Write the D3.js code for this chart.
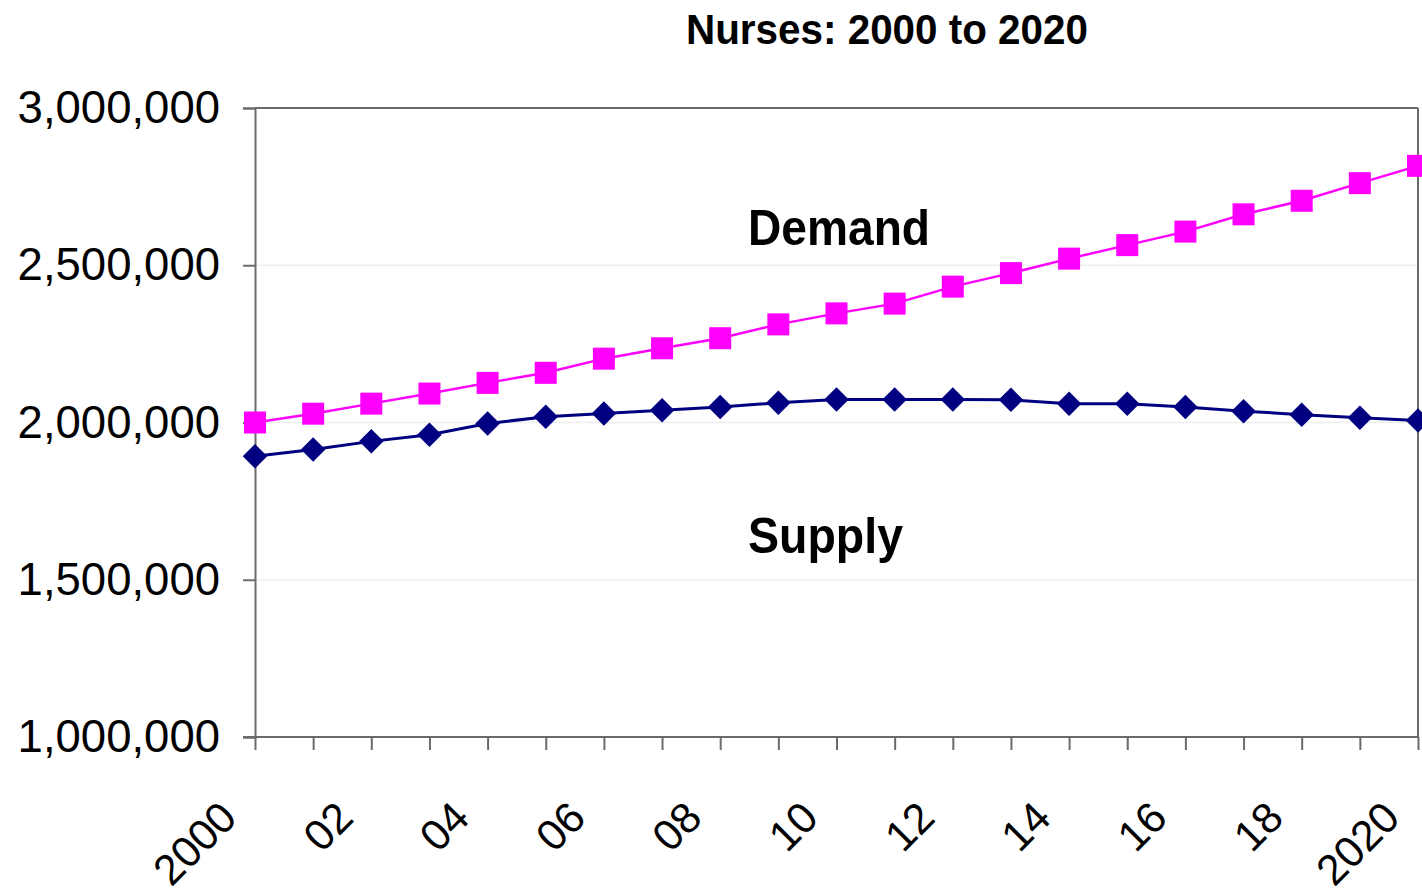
<!DOCTYPE html>
<html>
<head>
<meta charset="utf-8">
<script src="https://cdn.jsdelivr.net/npm/d3@7"></script>
<style>
  html, body { margin: 0; padding: 0; background: #fff; }
  svg { display: block; font-family: "Liberation Sans", Arial, Helvetica, sans-serif; }
</style>
</head>
<body>
<svg id="chart" width="1422" height="894"></svg>
<script>
// ---- data ----
const years = [2000,2001,2002,2003,2004,2005,2006,2007,2008,2009,2010,2011,2012,2013,2014,2015,2016,2017,2018,2019,2020];
const demand = [2000000,2028000,2060000,2092000,2126000,2158000,2203000,2236000,2268000,2312000,2347000,2378000,2432000,2475000,2521000,2564000,2607000,2662000,2705000,2761000,2816000];
const supply = [1893000,1914000,1940000,1961000,1997000,2018000,2029000,2039000,2049000,2063000,2073000,2073000,2073000,2072000,2060000,2060000,2049000,2036000,2025000,2015000,2006000];
const yTicks = [1000000,1500000,2000000,2500000,3000000];
const gridValues = [1500000,2000000,2500000];
const xLabelYears = [2000,2002,2004,2006,2008,2010,2012,2014,2016,2018,2020];
const xLabels = ["2000","02","04","06","08","10","12","14","16","18","2020"];
const title = "Nurses: 2000 to 2020";
const seriesNames = ["Demand","Supply"];

(function () {
  // ---- layout ----
  const svg = d3.select("#chart");
  const pLeft = 255, pRight = 1418, pTop = 108, pBottom = 737;
  const x = d3.scaleLinear().domain([2000, 2020]).range([pLeft, pRight]);
  const y = d3.scaleLinear().domain([1000000, 3000000]).range([pBottom, pTop]);
  const axisColor = "#6b6b6b";

  // gridlines
  svg.append("g").selectAll("line").data(gridValues).join("line")
    .attr("x1", pLeft).attr("x2", pRight)
    .attr("y1", d => y(d)).attr("y2", d => y(d))
    .attr("stroke", "#ededed").attr("stroke-width", 1.5);

  // frame top and right
  svg.append("line").attr("x1", pLeft).attr("x2", pRight).attr("y1", pTop).attr("y2", pTop)
    .attr("stroke", axisColor).attr("stroke-width", 2);
  svg.append("line").attr("x1", pRight).attr("x2", pRight).attr("y1", pTop).attr("y2", pBottom)
    .attr("stroke", axisColor).attr("stroke-width", 2);

  // y axis
  const yAxis = svg.append("g").attr("transform", `translate(${pLeft},0)`)
    .call(d3.axisLeft(y).tickValues(yTicks).tickSize(12).tickPadding(23).tickFormat(d3.format(",")));
  yAxis.select(".domain").attr("stroke", axisColor).attr("stroke-width", 2);
  yAxis.selectAll(".tick line").attr("stroke", axisColor).attr("stroke-width", 2);
  yAxis.selectAll(".tick text").attr("font-size", 45.5).attr("fill", "#000")
    .attr("font-family", "'Liberation Sans', Arial, sans-serif");

  // x axis
  const xAxis = svg.append("g").attr("transform", `translate(0,${pBottom})`)
    .call(d3.axisBottom(x).tickValues(years).tickSize(13).tickFormat(""));
  xAxis.select(".domain").attr("stroke", axisColor).attr("stroke-width", 2)
    .attr("d", `M${pLeft - 12},0H${pRight}`);
  xAxis.selectAll(".tick line").attr("stroke", axisColor).attr("stroke-width", 2);

  // rotated x labels
  svg.append("g").selectAll("text").data(xLabelYears).join("text")
    .attr("transform", d => `translate(${x(d) - 16},820) rotate(-45)`)
    .attr("text-anchor", "end")
    .attr("font-size", 43)
    .attr("fill", "#000")
    .text((d, i) => xLabels[i]);

  // lines
  const line = d3.line().x((d, i) => x(years[i])).y(d => y(d));
  svg.append("path").datum(demand).attr("d", line)
    .attr("fill", "none").attr("stroke", "#ff00ff").attr("stroke-width", 2.5);
  svg.append("path").datum(supply).attr("d", line)
    .attr("fill", "none").attr("stroke", "#000080").attr("stroke-width", 3);

  // markers
  svg.append("g").selectAll("rect").data(demand).join("rect")
    .attr("x", (d, i) => x(years[i]) - 11).attr("y", d => y(d) - 11)
    .attr("width", 22).attr("height", 22).attr("fill", "#ff00ff");
  svg.append("g").selectAll("path").data(supply).join("path")
    .attr("transform", (d, i) => `translate(${x(years[i])},${y(d)}) rotate(45)`)
    .attr("d", d3.symbol().type(d3.symbolSquare).size(300))
    .attr("fill", "#000080");

  // title
  svg.append("text").attr("x", 887).attr("y", 44).attr("text-anchor", "middle")
    .attr("font-size", 43).attr("font-weight", "bold").attr("fill", "#000")
    .attr("textLength", 402).attr("lengthAdjust", "spacingAndGlyphs")
    .text(title);

  // series labels
  svg.append("text").attr("x", 748).attr("y", 245)
    .attr("font-size", 50).attr("font-weight", "bold").attr("fill", "#000")
    .attr("textLength", 182).attr("lengthAdjust", "spacingAndGlyphs")
    .text(seriesNames[0]);
  svg.append("text").attr("x", 748).attr("y", 553)
    .attr("font-size", 50).attr("font-weight", "bold").attr("fill", "#000")
    .attr("textLength", 155).attr("lengthAdjust", "spacingAndGlyphs")
    .text(seriesNames[1]);
})();
</script>
</body>
</html>
